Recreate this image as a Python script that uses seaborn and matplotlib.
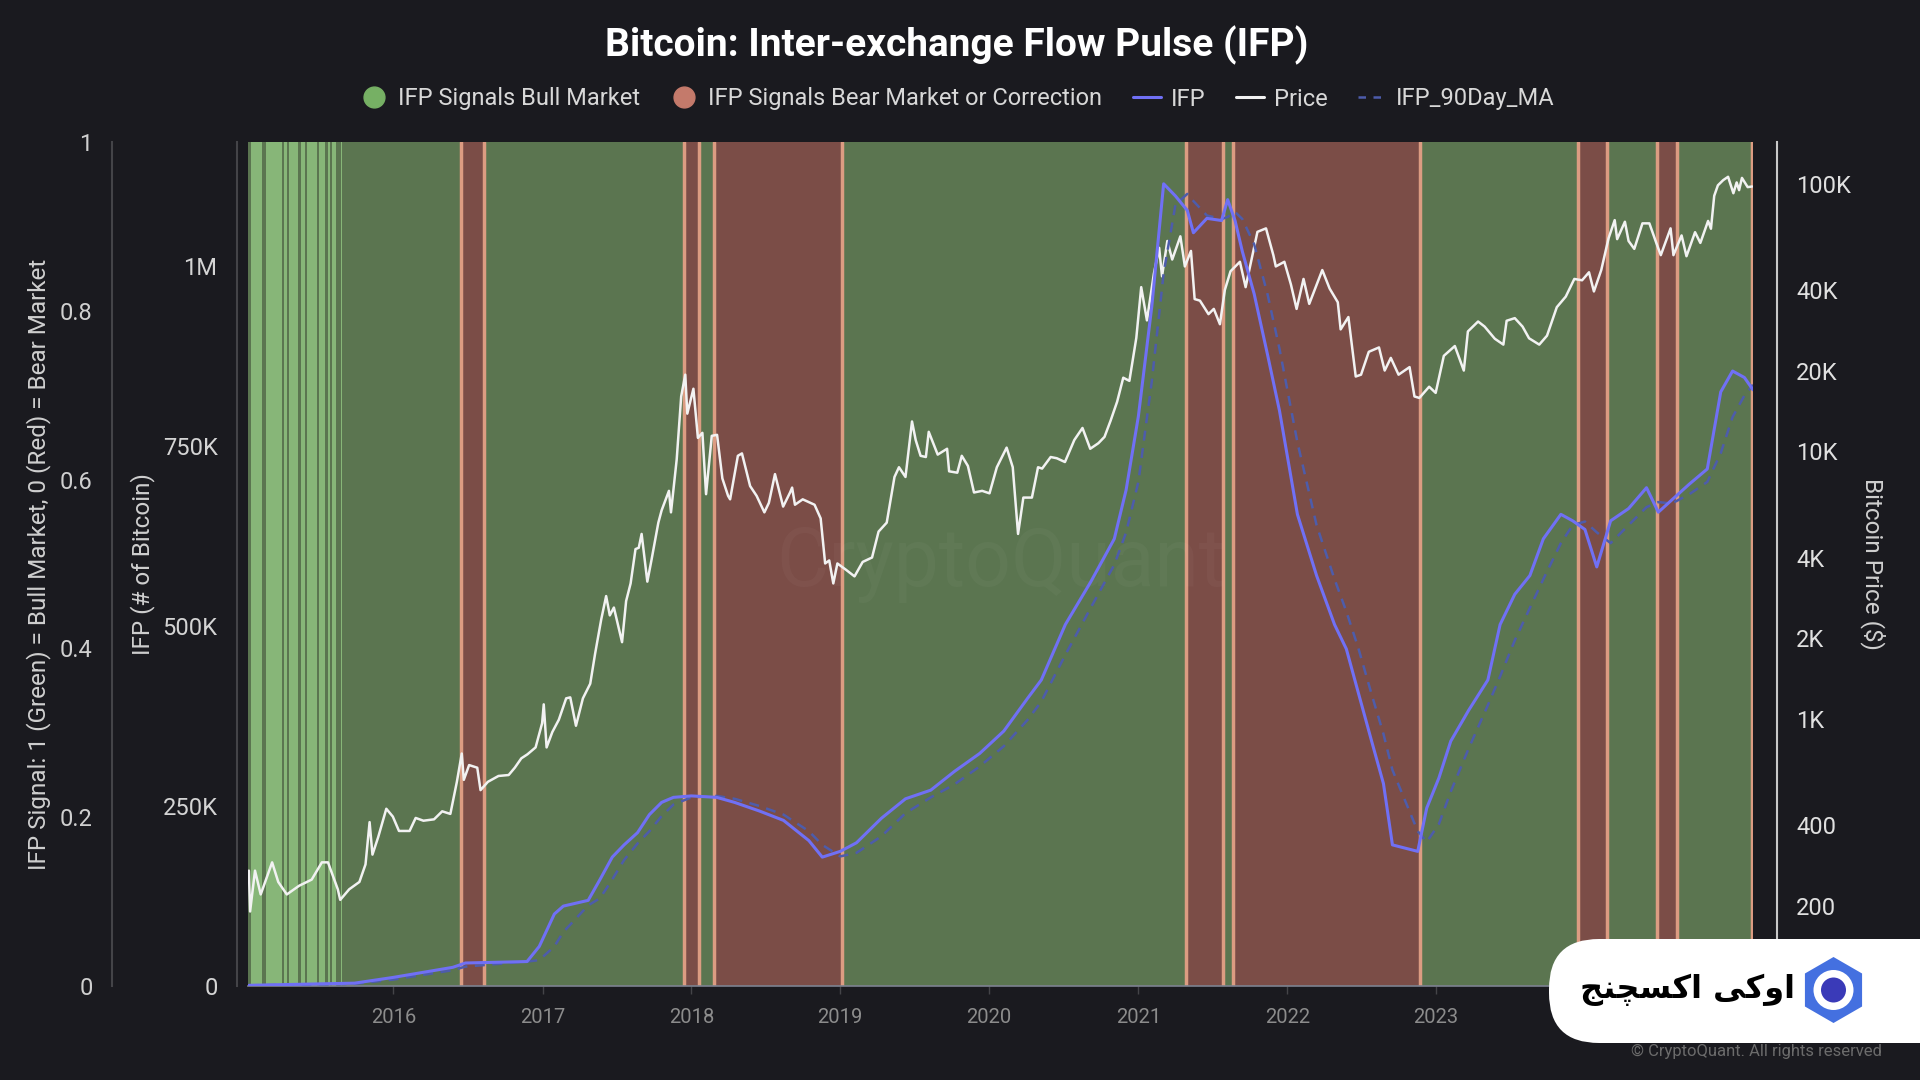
import pandas as pd
import matplotlib
matplotlib.use("Agg")
import matplotlib.pyplot as plt
import matplotlib.dates as mdates
from matplotlib.lines import Line2D
from matplotlib.patches import FancyBboxPatch, RegularPolygon, Circle
from matplotlib.ticker import FixedLocator, FixedFormatter
import seaborn as sns

# --- datos ---
PRICE_DATES = [
    "2015-01-12", "2015-01-15", "2015-01-27", "2015-02-10", "2015-03-10", "2015-03-25", "2015-04-15",
    "2015-05-15", "2015-06-15", "2015-07-10", "2015-07-25", "2015-08-18", "2015-08-24", "2015-09-15",
    "2015-10-10", "2015-10-25", "2015-11-04", "2015-11-11", "2015-11-25", "2015-12-15", "2015-12-31",
    "2016-01-15", "2016-02-10", "2016-02-25", "2016-03-15", "2016-04-10", "2016-04-30", "2016-05-20",
    "2016-06-05", "2016-06-17", "2016-06-22", "2016-07-05", "2016-07-25", "2016-08-02", "2016-08-20",
    "2016-09-15", "2016-10-10", "2016-10-25", "2016-11-10", "2016-11-25", "2016-12-15", "2016-12-31",
    "2017-01-04", "2017-01-11", "2017-01-25", "2017-02-10", "2017-02-28", "2017-03-10", "2017-03-24",
    "2017-04-10", "2017-04-28", "2017-05-10", "2017-05-25", "2017-06-06", "2017-06-15", "2017-06-25",
    "2017-07-15", "2017-07-25", "2017-08-05", "2017-08-17", "2017-08-25", "2017-09-01", "2017-09-15",
    "2017-09-25", "2017-10-12", "2017-10-20", "2017-11-07", "2017-11-12", "2017-11-26", "2017-12-07",
    "2017-12-17", "2017-12-22", "2018-01-06", "2018-01-17", "2018-01-28", "2018-02-06", "2018-02-20",
    "2018-03-05", "2018-03-18", "2018-04-01", "2018-04-06", "2018-04-25", "2018-05-05", "2018-05-25",
    "2018-06-10", "2018-06-29", "2018-07-10", "2018-07-25", "2018-08-14", "2018-08-31", "2018-09-05",
    "2018-09-12", "2018-10-01", "2018-10-30", "2018-11-14", "2018-11-25", "2018-12-05", "2018-12-15",
    "2018-12-25", "2019-01-15", "2019-02-05", "2019-02-25", "2019-03-20", "2019-04-05", "2019-04-25",
    "2019-05-14", "2019-05-25", "2019-06-10", "2019-06-26", "2019-07-05", "2019-07-17", "2019-07-30",
    "2019-08-06", "2019-08-28", "2019-09-20", "2019-09-25", "2019-10-15", "2019-10-26", "2019-11-10",
    "2019-11-25", "2019-12-15", "2020-01-02", "2020-01-20", "2020-02-13", "2020-02-28", "2020-03-12",
    "2020-03-25", "2020-04-15", "2020-04-30", "2020-05-10", "2020-05-31", "2020-06-15", "2020-07-05",
    "2020-07-28", "2020-08-17", "2020-09-05", "2020-09-25", "2020-10-10", "2020-10-25", "2020-11-10",
    "2020-11-25", "2020-12-10", "2020-12-27", "2021-01-08", "2021-01-22", "2021-02-08", "2021-02-21",
    "2021-02-28", "2021-03-13", "2021-03-25", "2021-04-14", "2021-04-25", "2021-05-10", "2021-05-19",
    "2021-06-01", "2021-06-22", "2021-07-05", "2021-07-20", "2021-08-01", "2021-08-15", "2021-09-07",
    "2021-09-21", "2021-10-05", "2021-10-20", "2021-11-10", "2021-11-28", "2021-12-04", "2021-12-25",
    "2022-01-10", "2022-01-24", "2022-02-10", "2022-02-24", "2022-03-28", "2022-04-15", "2022-05-05",
    "2022-05-12", "2022-05-31", "2022-06-18", "2022-07-01", "2022-07-20", "2022-08-14", "2022-08-28",
    "2022-09-12", "2022-10-01", "2022-10-28", "2022-11-09", "2022-11-21", "2022-12-15", "2022-12-31",
    "2023-01-20", "2023-02-16", "2023-03-10", "2023-03-20", "2023-04-14", "2023-04-30", "2023-05-25",
    "2023-06-15", "2023-06-23", "2023-07-13", "2023-08-01", "2023-08-17", "2023-09-11", "2023-09-30",
    "2023-10-24", "2023-11-15", "2023-12-06", "2023-12-25", "2024-01-11", "2024-01-23", "2024-02-10",
    "2024-02-28", "2024-03-14", "2024-03-20", "2024-04-08", "2024-04-17", "2024-05-01", "2024-05-21",
    "2024-06-07", "2024-06-24", "2024-07-05", "2024-07-29", "2024-08-05", "2024-08-25", "2024-09-06",
    "2024-09-27", "2024-10-10", "2024-10-29", "2024-11-05", "2024-11-13", "2024-11-22", "2024-12-05",
    "2024-12-17", "2024-12-30", "2025-01-07", "2025-01-13", "2025-01-20", "2025-02-03", "2025-02-14",
]
PRICE = [
    270, 190, 270, 220, 290, 245, 220,
    237, 250, 290, 290, 230, 210, 230,
    245, 285, 410, 310, 360, 460, 430,
    380, 380, 425, 415, 420, 450, 440,
    580, 740, 590, 670, 655, 540, 580,
    610, 615, 655, 710, 735, 780, 960,
    1130, 780, 890, 990, 1190, 1200, 940,
    1190, 1350, 1750, 2350, 2870, 2430, 2600,
    1930, 2750, 3200, 4300, 4350, 4900, 3250,
    3900, 5400, 6000, 7100, 5900, 9300, 16000,
    19300, 13800, 17100, 11200, 11700, 6900, 11400,
    11500, 7900, 6800, 6600, 9600, 9800, 7400,
    6800, 5900, 6400, 8200, 6200, 7000, 7300,
    6300, 6600, 6300, 5600, 3800, 3900, 3200,
    3800, 3600, 3400, 3850, 4000, 5000, 5400,
    8000, 8700, 8000, 12900, 11000, 9600, 9500,
    11800, 9700, 10200, 8400, 8300, 9600, 8800,
    7000, 7100, 6950, 8700, 10300, 8700, 4900,
    6700, 6700, 8700, 8600, 9500, 9400, 9100,
    11000, 12200, 10200, 10700, 11300, 13000, 15300,
    18800, 18300, 26500, 41000, 30800, 46000, 57500,
    45000, 61000, 52000, 63500, 49000, 56000, 37000,
    36500, 32500, 34000, 29800, 40000, 47000, 51000,
    41000, 51500, 66000, 68000, 54000, 49000, 51000,
    42000, 34000, 44000, 35500, 47500, 40500, 36000,
    28500, 31700, 19000, 19300, 23500, 24400, 20000,
    22300, 19300, 20600, 16000, 15800, 17400, 16500,
    22700, 24700, 20000, 28000, 30500, 29200, 26300,
    25000, 30700, 31400, 29200, 26400, 25000, 27000,
    34500, 37800, 44000, 43500, 46600, 39500, 47500,
    62500, 73000, 62000, 72000, 61000, 57000, 71000,
    71000, 60000, 54000, 68000, 54000, 64000, 53500,
    65800, 60000, 72500, 67800, 90000, 98500, 103000,
    106000, 92000, 101000, 94500, 105000, 97000, 97500,
]

IFP_DATES = [
    "2015-01-12", "2015-09-28", "2016-01-01", "2016-05-26", "2016-06-26", "2016-11-24", "2016-12-24",
    "2017-01-30", "2017-02-21", "2017-04-23", "2017-05-22", "2017-06-21", "2017-07-20", "2017-08-22",
    "2017-09-20", "2017-10-20", "2017-11-18", "2018-01-01", "2018-03-04", "2018-04-17", "2018-06-17",
    "2018-08-15", "2018-10-16", "2018-11-18", "2019-01-01", "2019-02-10", "2019-04-12", "2019-06-10",
    "2019-08-11", "2019-10-08", "2019-12-09", "2020-02-06", "2020-04-05", "2020-05-08", "2020-07-06",
    "2020-09-06", "2020-11-03", "2020-12-02", "2021-01-01", "2021-02-03", "2021-03-04", "2021-04-02",
    "2021-05-01", "2021-05-16", "2021-06-18", "2021-07-24", "2021-08-08", "2021-08-26", "2021-09-13",
    "2021-10-12", "2021-11-14", "2021-12-13", "2022-01-26", "2022-03-14", "2022-04-27", "2022-05-26",
    "2022-06-24", "2022-07-27", "2022-08-25", "2022-09-16", "2022-11-17", "2022-12-09", "2023-01-08",
    "2023-02-06", "2023-03-22", "2023-05-08", "2023-06-07", "2023-07-13", "2023-08-19", "2023-09-21",
    "2023-11-03", "2023-12-02", "2024-01-01", "2024-01-30", "2024-03-04", "2024-04-17", "2024-05-31",
    "2024-06-29", "2024-08-01", "2024-09-13", "2024-10-27", "2024-11-29", "2024-12-28", "2025-01-26",
    "2025-02-16",
]
# miles de BTC
IFP = [
    1, 4, 12, 26, 32, 34, 55,
    100, 111, 119, 148, 179, 196, 213,
    238, 255, 262, 264, 262, 255, 243,
    230, 202, 179, 187, 199, 233, 260,
    272, 298, 323, 354, 400, 425, 502,
    561, 621, 689, 791, 944, 1114, 1097,
    1077, 1046, 1066, 1063, 1092, 1063, 1020,
    961, 876, 799, 655, 570, 502, 468,
    408, 340, 281, 196, 187, 247, 289,
    340, 383, 425, 502, 544, 570, 621,
    655, 646, 634, 582, 646, 663, 692,
    658, 675, 697, 718, 825, 854, 845,
    828,
]
IFP_MA90 = [
    1, 3, 9, 22, 27, 34, 36,
    55, 75, 112, 122, 148, 175, 198,
    215, 236, 252, 262, 264, 260, 250,
    238, 215, 196, 180, 185, 208, 240,
    262, 280, 305, 333, 370, 395, 460,
    525, 585, 630, 700, 840, 990, 1085,
    1100, 1090, 1070, 1065, 1068, 1075, 1065,
    1030, 960, 885, 755, 640, 565, 520,
    470, 405, 350, 300, 215, 200, 225,
    270, 330, 390, 430, 480, 525, 565,
    615, 640, 645, 630, 615, 640, 665,
    672, 670, 683, 700, 740, 790, 820,
    835,
]

# periodos de señal 0 (bajista)
BEAR_STARTS = ["2016-06-15", "2017-12-14", "2018-02-25", "2021-04-28", "2021-08-20", "2023-12-14", "2024-06-25", "2025-02-13"]
BEAR_ENDS = ["2016-08-10", "2018-01-20", "2019-01-06", "2021-07-27", "2022-11-22", "2024-02-24", "2024-08-14", "2025-02-16"]
# alternancia rapida de la señal en 2015
FLICKER_STARTS = ["2015-01-18", "2015-02-23", "2015-04-07", "2015-04-20", "2015-05-19", "2015-06-03", "2015-07-02",
                  "2015-07-24", "2015-08-05", "2015-08-25"]
FLICKER_ENDS = ["2015-02-13", "2015-04-03", "2015-04-16", "2015-05-13", "2015-05-30", "2015-06-28", "2015-07-17",
                "2015-07-31", "2015-08-13", "2015-08-28"]

SIG_TICKS = [0, 0.2, 0.4, 0.6, 0.8, 1]
SIG_LABELS = ["0", "0.2", "0.4", "0.6", "0.8", "1"]
IFP_TICKS = [0, 250, 500, 750, 1000]
IFP_LABELS = ["0", "250K", "500K", "750K", "1M"]
PRICE_TICKS = [200, 400, 1000, 2000, 4000, 10000, 20000, 40000, 100000]
PRICE_LABELS = ["200", "400", "1K", "2K", "4K", "10K", "20K", "40K", "100K"]

TITLE = "Bitcoin: Inter-exchange Flow Pulse (IFP)"
LEGEND_LABELS = ["IFP Signals Bull Market", "IFP Signals Bear Market or Correction", "IFP", "Price", "IFP_90Day_MA"]
BRAND = "\ufe9e\ufee8\ufb7d\ufeb4\ufb90\ufe8d \ufbfd\ufb90\ufeed\ufe8d"  # اوکی اکسچنج (formas de presentacion, orden visual)

# colores
BG = "#1a1a1f"
GREEN = "#5b7550"
GREEN_LIGHT = "#87b678"
RED = "#7b4d47"
SALMON = "#dc9c82"
BLUE = "#7070f5"
BLUE_MA = "#4d5cab"
WHITE = "#f2f2f2"

sns.set_theme(style="dark")
plt.rcParams["font.family"] = ["Roboto", "DejaVu Sans"]

df_price = pd.DataFrame({"fecha": pd.to_datetime(PRICE_DATES), "precio": PRICE})
df_ifp = pd.DataFrame({"fecha": pd.to_datetime(IFP_DATES),
                       "ifp": [v * 1000 for v in IFP],
                       "ma": [v * 1000 for v in IFP_MA90]})

fig = plt.figure(figsize=(19.2, 10.8), dpi=100, facecolor=BG)
ax_sig = fig.add_axes([0.1292, 0.0870, 0.7838, 0.7815])
ax_sig.set_facecolor(GREEN)
ax_ifp = ax_sig.twinx()
ax_price = ax_sig.twinx()
ax_price.set_zorder(0.5)
ax_ifp.set_zorder(1)

x0, x1 = pd.Timestamp("2015-01-10"), pd.Timestamp("2025-02-16")
ax_sig.set_xlim(x0, x1)

# franjas de fondo
for s, e in zip(FLICKER_STARTS, FLICKER_ENDS):
    ax_sig.axvspan(pd.Timestamp(s), pd.Timestamp(e), color=GREEN_LIGHT, lw=0)
for s, e in zip(BEAR_STARTS, BEAR_ENDS):
    ax_sig.axvspan(pd.Timestamp(s), pd.Timestamp(e), color=RED, lw=0)
    ax_sig.axvline(pd.Timestamp(s), color=SALMON, lw=2.5)
    ax_sig.axvline(pd.Timestamp(e), color=SALMON, lw=2.5)

ax_sig.text(0.5, 0.5, "CryptoQuant", transform=ax_sig.transAxes, ha="center", va="center",
            fontsize=58, color="white", alpha=0.03)

# lineas
sns.lineplot(data=df_price, x="fecha", y="precio", ax=ax_price, color=WHITE, linewidth=1.8)
sns.lineplot(data=df_ifp, x="fecha", y="ma", ax=ax_ifp, color=BLUE_MA, linewidth=1.8, linestyle=(0, (4, 3)))
sns.lineplot(data=df_ifp, x="fecha", y="ifp", ax=ax_ifp, color=BLUE, linewidth=2.2)

# ejes
ax_sig.set_ylim(0, 1)
ax_ifp.set_ylim(0, 1172000)
ax_price.set_yscale("log")
ax_price.set_ylim(100, 143000)
ax_sig.set_xlim(x0, x1)

for ax in (ax_sig, ax_ifp, ax_price):
    for sp in ax.spines.values():
        sp.set_visible(False)
    ax.set_xlabel("")

TICK_FS = 17
LABEL_FS = 17.5

ax_sig.yaxis.set_major_locator(FixedLocator(SIG_TICKS))
ax_sig.yaxis.set_major_formatter(FixedFormatter(SIG_LABELS))
ax_sig.spines["left"].set_visible(True)
ax_sig.spines["left"].set_position(("outward", 98))
ax_sig.spines["left"].set_color("#444448")
ax_sig.spines["left"].set_linewidth(1.5)
ax_sig.tick_params(axis="y", length=0, pad=14, labelsize=TICK_FS, labelcolor="#cfcfcf")
ax_sig.set_ylabel("IFP Signal: 1 (Green) = Bull Market, 0 (Red) = Bear Market", color="#cfcfcf",
                  fontsize=LABEL_FS, va="center", ha="center")
ax_sig.yaxis.set_label_coords(-0.1389, 0.5)

ax_ifp.yaxis.tick_left()
ax_ifp.yaxis.set_label_position("left")
ax_ifp.yaxis.set_major_locator(FixedLocator([v * 1000 for v in IFP_TICKS]))
ax_ifp.yaxis.set_major_formatter(FixedFormatter(IFP_LABELS))
ax_ifp.spines["left"].set_visible(True)
ax_ifp.spines["left"].set_position(("outward", 8))
ax_ifp.spines["left"].set_color("#444448")
ax_ifp.spines["left"].set_linewidth(1.5)
ax_ifp.tick_params(axis="y", length=0, pad=14, labelsize=TICK_FS, labelcolor="#d4d4d4")
ax_ifp.set_ylabel("IFP (# of Bitcoin)", color="#cfcfcf", fontsize=LABEL_FS, va="center", ha="center")
ax_ifp.yaxis.set_label_coords(-0.0704, 0.5)

ax_price.yaxis.set_major_locator(FixedLocator(PRICE_TICKS))
ax_price.yaxis.set_major_formatter(FixedFormatter(PRICE_LABELS))
ax_price.yaxis.set_minor_locator(FixedLocator([]))
ax_price.spines["right"].set_visible(True)
ax_price.spines["right"].set_position(("outward", 17))
ax_price.spines["right"].set_color("#c8c8c8")
ax_price.spines["right"].set_linewidth(1.5)
ax_price.tick_params(axis="y", which="both", length=0, pad=14, labelsize=TICK_FS, labelcolor="#e0e0e0")
ax_price.set_ylabel("Bitcoin Price ($)", color="#cfcfcf", fontsize=LABEL_FS, rotation=270, va="center", ha="center")
ax_price.yaxis.set_label_coords(1.0797, 0.5)

ax_sig.spines["bottom"].set_visible(True)
ax_sig.spines["bottom"].set_color("#7d8290")
ax_sig.spines["bottom"].set_linewidth(1.2)
ax_sig.xaxis.set_major_locator(mdates.YearLocator())
ax_sig.xaxis.set_major_formatter(mdates.DateFormatter("%Y"))
ax_sig.tick_params(axis="x", length=6, width=1, color="#444448", pad=10, labelsize=14.5, labelcolor="#8c8c8c",
                   bottom=True)

# titulo y leyenda
fig.text(0.4985, 1 - 45 / 1080, TITLE, ha="center", va="center", fontsize=28, fontweight="bold", color="white")
handles = [
    Line2D([], [], ls="none", marker="o", markersize=15, markerfacecolor="#76b064", markeredgecolor="#76b064"),
    Line2D([], [], ls="none", marker="o", markersize=15, markerfacecolor="#c47a6b", markeredgecolor="#c47a6b"),
    Line2D([], [], color=BLUE, lw=2.2),
    Line2D([], [], color=WHITE, lw=2.2),
    Line2D([], [], color=BLUE_MA, lw=1.8, ls=(0, (3, 3))),
]
fig.legend(handles, LEGEND_LABELS, loc="center", bbox_to_anchor=(0.4985, 1 - 99 / 1080), ncol=5, frameon=False,
           fontsize=17, labelcolor="#d8d8d8", handlelength=1.2, handletextpad=0.4, columnspacing=1.3)

# logo superpuesto
tr = fig.dpi_scale_trans
fig.patches.append(FancyBboxPatch((15.49, 0.37), 5.0, 1.04, boxstyle="round,pad=0,rounding_size=0.5",
                                  transform=tr, facecolor="white", edgecolor="none", zorder=10))
fig.patches.append(RegularPolygon((18.335, 0.90), numVertices=6, radius=0.33, transform=tr,
                                  facecolor="#4470e0", edgecolor="none", zorder=11))
fig.patches.append(Circle((18.335, 0.90), 0.20, transform=tr, facecolor="white", edgecolor="none", zorder=12))
fig.patches.append(Circle((18.335, 0.90), 0.125, transform=tr, facecolor="#3a3ab8", edgecolor="none", zorder=13))
fig.text(17.95, 0.90, BRAND, transform=tr, ha="right", va="center", fontsize=23, fontweight="bold",
         color="black", family=["DejaVu Sans"], zorder=14)
fig.text(18.82, 0.29, "\u00a9 CryptoQuant. All rights reserved", transform=tr, ha="right", va="center",
         fontsize=12, color="#6b6b6b", zorder=14)

fig.savefig("out.png", dpi=100, facecolor=BG)
